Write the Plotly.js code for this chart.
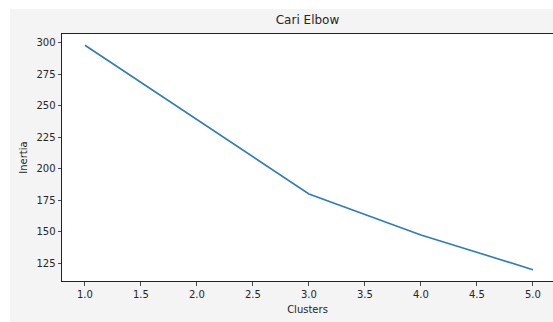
<!DOCTYPE html>
<html>
<head>
<meta charset="utf-8">
<script src="https://cdn.plot.ly/plotly-3.0.1.min.js"></script>
<style>
  html, body { margin: 0; padding: 0; background: #ffffff; width: 553px; height: 322px; overflow: hidden; }
  #chart { position: absolute; left: 10px; top: 9px; width: 543px; height: 313px; }
</style>
</head>
<body>
<div id="chart"></div>
<script>
const clusters = [1, 2, 3, 4, 5];
const inertia = [298, 239, 180, 147.5, 120];
const xTicks = [1.0, 1.5, 2.0, 2.5, 3.0, 3.5, 4.0, 4.5, 5.0];
const xTickText = ['1.0', '1.5', '2.0', '2.5', '3.0', '3.5', '4.0', '4.5', '5.0'];
const yTicks = [125, 150, 175, 200, 225, 250, 275, 300];

const font = { family: 'DejaVu Sans, sans-serif', size: 10, color: '#262626' };

const trace = {
  x: clusters, y: inertia, type: 'scatter', mode: 'lines',
  line: { color: '#2e7db5', width: 1.6 }, hoverinfo: 'skip'
};

const layout = {
  width: 543, height: 313,
  paper_bgcolor: '#f4f4f4', plot_bgcolor: '#ffffff',
  margin: { l: 52, r: 0, t: 25, b: 41, pad: 0 },
  showlegend: false,
  font: font,
  title: { text: 'Cari Elbow', font: { family: 'DejaVu Sans, sans-serif', size: 12, color: '#262626' },
           x: 0.5, xref: 'paper', y: 1 - 11 / 313, yref: 'container', yanchor: 'middle' },
  xaxis: {
    range: [0.795, 5.179], tickvals: xTicks, ticktext: xTickText,
    showgrid: false, zeroline: false, showline: true, linecolor: '#222', linewidth: 1,
    mirror: true, ticks: 'outside', ticklen: 3.5, tickcolor: '#222', tickwidth: 0.8,
    tickfont: font,
    title: { text: 'Clusters', font: font, standoff: 7 }
  },
  yaxis: {
    range: [111, 306.9], tickvals: yTicks,
    showgrid: false, zeroline: false, showline: true, linecolor: '#222', linewidth: 1,
    ticks: 'outside', ticklen: 3.5, tickcolor: '#222', tickwidth: 0.8,
    tickfont: font,
    title: { text: 'Inertia', font: font, standoff: 6 }
  }
};

Plotly.newPlot('chart', [trace], layout, { staticPlot: true, displayModeBar: false });
</script>
</body>
</html>
